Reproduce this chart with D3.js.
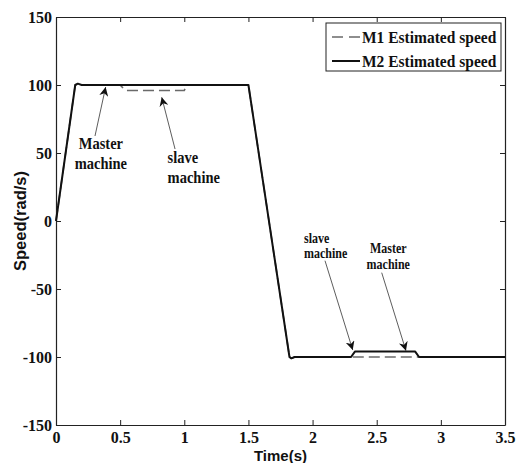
<!DOCTYPE html>
<html>
<head>
<meta charset="utf-8">
<script src="https://cdn.jsdelivr.net/npm/d3@7"></script>
<style>
  body { margin: 0; background: #fff; }
  svg { display: block; }
</style>
</head>
<body>
<div id="chart"></div>
<script>
// time (s) / speed (rad/s)
const m1Time = [0, 0.15, 0.17, 0.2, 0.5, 0.54, 1.0, 1.02, 1.5, 1.82, 1.835, 1.86, 3.5];
const m1Speed = [0, 100, 101, 100, 100, 96, 96, 100, 100, -100, -101, -100, -100];
const m2Time = [0, 0.15, 0.17, 0.2, 1.5, 1.82, 1.835, 1.86, 2.3, 2.33, 2.8, 2.83, 3.5];
const m2Speed = [0, 100, 101, 100, 100, -100, -101, -100, -100, -96, -96, -100, -100];

const xTicks = [0, 0.5, 1, 1.5, 2, 2.5, 3, 3.5];
const yTicks = [-150, -100, -50, 0, 50, 100, 150];
const legendLabels = ["M1 Estimated speed", "M2 Estimated speed"];

// annotations: text lines, text anchor point, arrow tail -> tip (data coords)
const notes = [
  { lines: ["Master", "machine"], at: [0.35, 53], gap: 14.7, anchor: "middle", size: 14.5, tail: [0.304, 62.5], tip: [0.387, 98.5] },
  { lines: ["slave", "machine"], at: [0.87, 42.6], gap: 14.7, anchor: "start", size: 14.5, tail: [0.928, 52.9], tip: [0.824, 91] },
  { lines: ["slave", "machine"], at: [1.933, -16.2], gap: 11, anchor: "start", size: 12, tail: [2.097, -29.2], tip: [2.313, -94.9] },
  { lines: ["Master", "machine"], at: [2.59, -23.5], gap: 11.8, anchor: "middle", size: 12, tail: [2.539, -38], tip: [2.728, -95.4] },
];

const width = 524, height = 463;
const margin = { top: 17, right: 19, bottom: 38, left: 56 };
const serif = "'Liberation Serif', 'Times New Roman', serif";
const sans = "'Liberation Sans', Arial, sans-serif";

const svg = d3.select("#chart").append("svg")
  .attr("width", width).attr("height", height);

const x = d3.scaleLinear().domain([0, 3.5]).range([margin.left, width - margin.right]);
const y = d3.scaleLinear().domain([-150, 150]).range([height - margin.bottom, margin.top]);

svg.append("defs").append("marker")
  .attr("id", "head").attr("viewBox", "0 0 10 10")
  .attr("refX", 10).attr("refY", 5)
  .attr("markerWidth", 9).attr("markerHeight", 9)
  .attr("markerUnits", "userSpaceOnUse")
  .attr("orient", "auto")
  .append("path").attr("d", "M0,0 L10,5 L0,10 L3,5 Z").attr("fill", "#111");

// the reference text is a bit stretched vertically
const stretch = (sel, k) => sel.each(function () {
  const t = d3.select(this);
  const tx = +t.attr("x") || 0, ty = +t.attr("y") || 0;
  t.attr("transform", `translate(${tx},${ty}) scale(1,${k}) translate(${-tx},${-ty})`);
});

// axes (inward ticks on all four sides)
const tickStyle = (g) => {
  g.select(".domain").attr("stroke", "#222").attr("stroke-width", 1.2);
  g.selectAll(".tick line").attr("stroke", "#222");
  g.selectAll("text").attr("font-family", serif).attr("font-weight", "bold")
    .attr("font-size", 16).attr("fill", "#111");
};
const fmt = (d) => String(d);
svg.append("g").attr("transform", `translate(0,${y(-150)})`)
  .call(d3.axisBottom(x).tickValues(xTicks).tickSizeInner(-5).tickSizeOuter(0).tickPadding(7).tickFormat(fmt))
  .call(tickStyle);
svg.append("g").attr("transform", `translate(0,${y(150)})`)
  .call(d3.axisTop(x).tickValues(xTicks).tickSizeInner(-5).tickSizeOuter(0).tickFormat(""))
  .call(tickStyle);
svg.append("g").attr("transform", `translate(${x(0)},0)`)
  .call(d3.axisLeft(y).tickValues(yTicks).tickSizeInner(-5).tickSizeOuter(0).tickPadding(4).tickFormat(fmt))
  .call(tickStyle);
svg.append("g").attr("transform", `translate(${x(3.5)},0)`)
  .call(d3.axisRight(y).tickValues(yTicks).tickSizeInner(-5).tickSizeOuter(0).tickFormat(""))
  .call(tickStyle);

// axis titles
svg.append("text").attr("x", x(1.75)).attr("y", 461)
  .attr("text-anchor", "middle").attr("font-family", sans).attr("font-weight", "bold")
  .attr("font-size", 15).attr("fill", "#111").text("Time(s)");
svg.append("text").attr("transform", `translate(26,${y(0)}) rotate(-90)`)
  .attr("text-anchor", "middle").attr("font-family", sans).attr("font-weight", "bold")
  .attr("font-size", 16.5).attr("fill", "#111").text("Speed(rad/s)");

// lines
const line = d3.line().x((d) => x(d[0])).y((d) => y(d[1]));
const m1 = m1Time.map((t, i) => [t, m1Speed[i]]);
const m2 = m2Time.map((t, i) => [t, m2Speed[i]]);
svg.append("path").datum(m1).attr("d", line)
  .attr("fill", "none").attr("stroke", "#6a6a6a").attr("stroke-width", 1.6)
  .attr("stroke-dasharray", "11,5");
svg.append("path").datum(m2).attr("d", line)
  .attr("fill", "none").attr("stroke", "#111").attr("stroke-width", 2)
  .attr("stroke-linejoin", "round");

// annotations
notes.forEach((n) => {
  svg.append("line")
    .attr("x1", x(n.tail[0])).attr("y1", y(n.tail[1]))
    .attr("x2", x(n.tip[0])).attr("y2", y(n.tip[1]))
    .attr("stroke", "#333").attr("stroke-width", 0.8)
    .attr("marker-end", "url(#head)");
  n.lines.forEach((s, i) => {
    svg.append("text").attr("font-family", serif).attr("font-weight", "bold")
      .attr("font-size", n.size).attr("fill", "#111").attr("text-anchor", n.anchor)
      .attr("x", x(n.at[0])).attr("y", y(n.at[1]) + i * n.gap * 1.36)
      .text(s)
      .call(stretch, 1.2);
  });
});

// legend
const lg = svg.append("g");
lg.append("rect").attr("x", 326).attr("y", 23).attr("width", 175).attr("height", 48)
  .attr("fill", "#fff").attr("stroke", "#222").attr("stroke-width", 1);
legendLabels.forEach((label, i) => {
  const ly = 37 + i * 24;
  lg.append("line").attr("x1", 332).attr("x2", 360).attr("y1", ly).attr("y2", ly)
    .attr("stroke", i === 0 ? "#6a6a6a" : "#111").attr("stroke-width", i === 0 ? 1.6 : 2)
    .attr("stroke-dasharray", i === 0 ? "11,6" : null);
  lg.append("text").attr("x", 362).attr("y", ly + 6)
    .attr("font-family", serif).attr("font-weight", "bold").attr("font-size", 15.5)
    .attr("fill", "#111").text(label)
    .call(stretch, 1.08);
});
</script>
</body>
</html>
